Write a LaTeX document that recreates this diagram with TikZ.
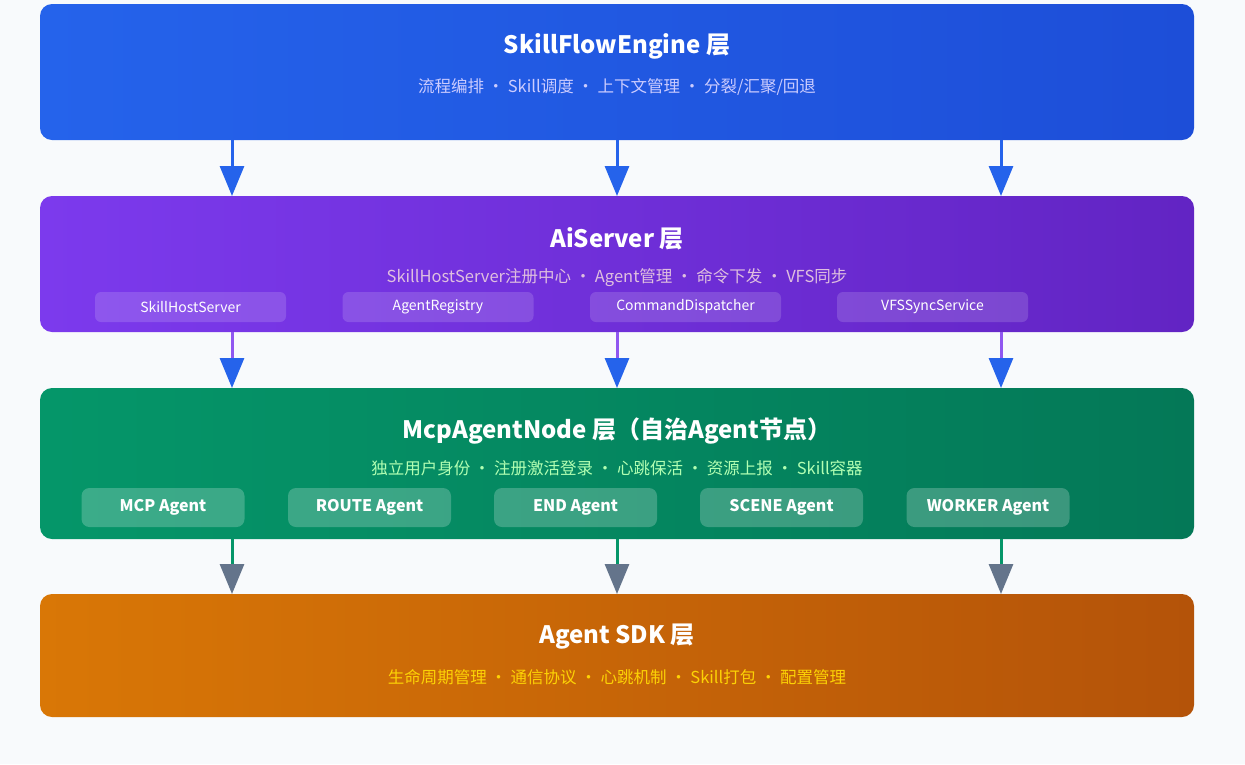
\documentclass[tikz,border=0pt]{standalone}
\usepackage{fontspec}
\setmainfont{Noto Sans CJK SC}
\usetikzlibrary{arrows.meta,shadows}
\definecolor{bgc}{HTML}{F8FAFC}
\definecolor{blueA}{HTML}{2563EB}\definecolor{blueB}{HTML}{1D4ED8}
\definecolor{purA}{HTML}{7C3AED}\definecolor{purB}{HTML}{6D28D9}
\definecolor{grnA}{HTML}{059669}\definecolor{grnB}{HTML}{047857}
\definecolor{orgA}{HTML}{D97706}\definecolor{orgB}{HTML}{B45309}
\definecolor{greyA}{HTML}{64748B}
\tikzset{
  layer/.style={rounded corners=12pt,minimum width=1154pt,draw=none},
  ttl/.style={text=white,font=\fontsize{24}{28}\selectfont\bfseries},
  sub/.style={font=\fontsize{16.5}{20}\selectfont},
  chipP/.style={rounded corners=6pt,fill=white,fill opacity=0.15,text opacity=1,text=white,
    minimum width=191pt,minimum height=30pt,font=\fontsize{14}{16}\selectfont},
  chipG/.style={rounded corners=8pt,fill=white,fill opacity=0.22,text opacity=1,text=white,
    minimum width=163pt,minimum height=39pt,font=\fontsize{16}{18}\selectfont\bfseries},
  link/.style={line width=3pt},
}
\begin{document}
\begin{tikzpicture}[x=1pt,y=-1pt]
\fill[bgc] (0,0) rectangle (1245,764);
% layers
\shade[layer,left color=blueA,right color=blueB] (40,4) rectangle (1194,140);
\shade[layer,left color=purA,right color=purB!90!black] (40,196) rectangle (1194,332);
\shade[layer,left color=grnA,right color=grnB] (40,388) rectangle (1194,539);
\shade[layer,left color=orgA,right color=orgB] (40,594) rectangle (1194,717);
\coordinate (L1s) at (0,140);\coordinate (L2n) at (0,196);\coordinate (L2s) at (0,332);
\coordinate (L3n) at (0,388);\coordinate (L3s) at (0,539);\coordinate (L4n) at (0,594);
% titles
\node[ttl] (t1) at (617,46) {SkillFlowEngine 层};
\node[sub,text=blue!20] (s1) at (617,87) {流程编排 · Skill调度 · 上下文管理 · 分裂/汇聚/回退};
\node[ttl] (t2) at (617,239) {AiServer 层};
\node[sub,text=violet!25] (s2) at (617,278) {SkillHostServer注册中心 · Agent管理 · 命令下发 · VFS同步};
\node[ttl] (t3) at (617,431) {McpAgentNode 层（自治Agent节点）};
\node[sub,text=green!30] (s3) at (617,468) {独立用户身份 · 注册激活登录 · 心跳保活 · 资源上报 · Skill容器};
\node[ttl] (t4) at (617,637) {Agent SDK 层};
\node[sub,text=yellow!70!orange] (s4) at (617,677) {生命周期管理 · 通信协议 · 心跳机制 · Skill打包 · 配置管理};
% chips
\node[chipP] (p1) at (190.5,307) {SkillHostServer};
\node[chipP] (p2) at (438,307) {AgentRegistry};
\node[chipP] (p3) at (685.5,307) {CommandDispatcher};
\node[chipP] (p4) at (932.5,307) {VFSSyncService};
\node[chipG] (g1) at (163,507.5) {MCP Agent};
\node[chipG] (g2) at (369.5,507.5) {ROUTE Agent};
\node[chipG] (g3) at (575.5,507.5) {END Agent};
\node[chipG] (g4) at (781.5,507.5) {SCENE Agent};
\node[chipG] (g5) at (988,507.5) {WORKER Agent};
% connectors
\foreach \x in {232,617,1001}{
  \draw[link,blueA,-{Triangle[width=24pt,length=30pt]}] (L1s -| \x,0) -- (L2n -| \x,0);
  \draw[link,purA!85!white,-{Triangle[width=24pt,length=30pt,color=blueA]}] (L2s -| \x,0) -- (L3n -| \x,0);
  \draw[link,grnA,-{Triangle[width=24pt,length=30pt,color=greyA]}] (L3s -| \x,0) -- (L4n -| \x,0);
}
\end{tikzpicture}
\end{document}
